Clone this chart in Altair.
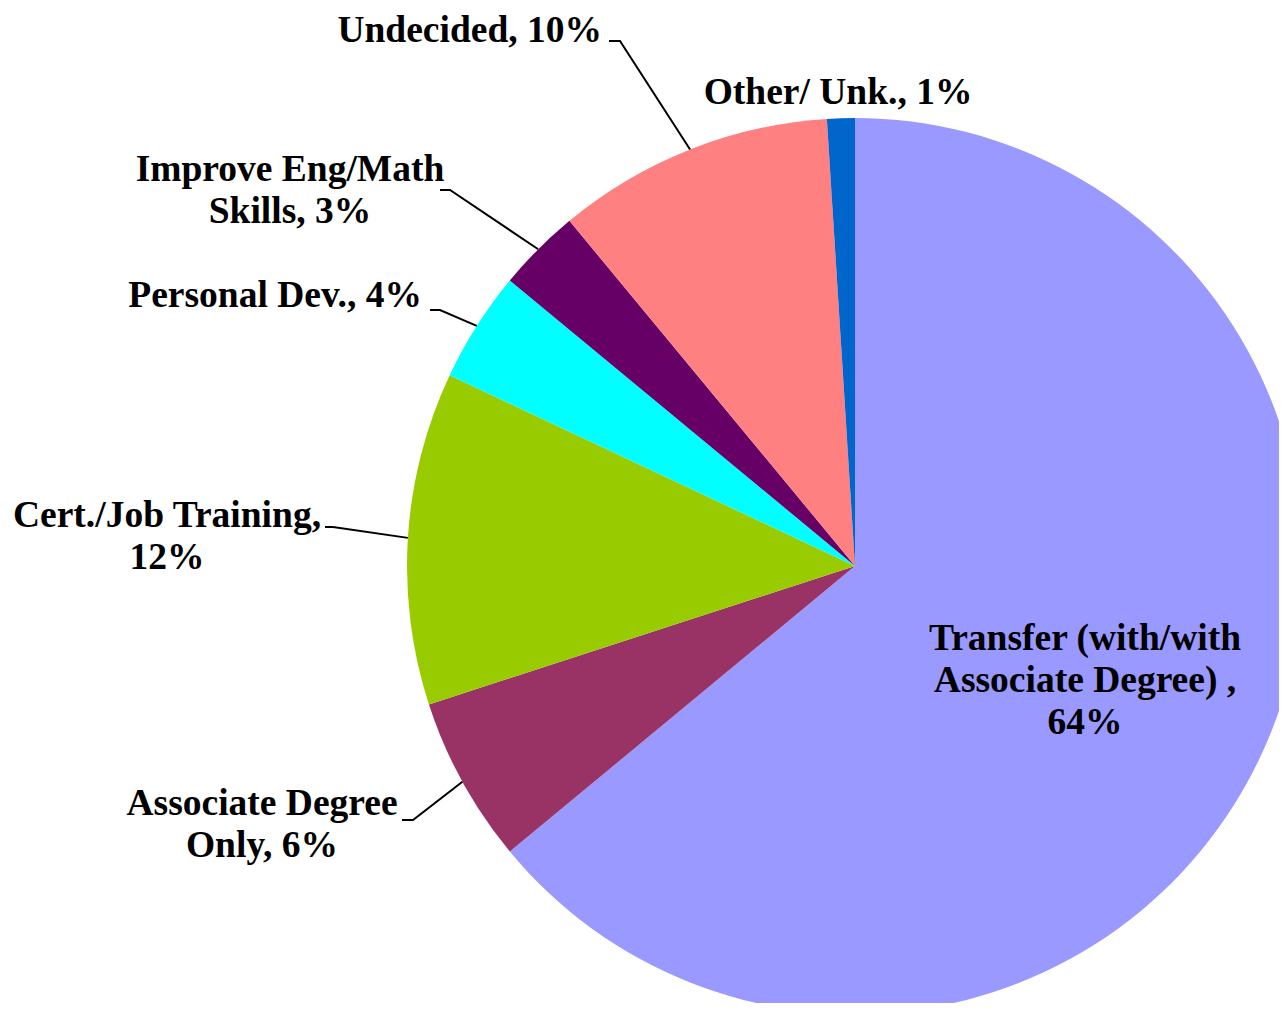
import math
import altair as alt
import pandas as pd

# ---- data ----
categories = [
    "Transfer (with/with Associate Degree)",
    "Associate Degree Only",
    "Cert./Job Training",
    "Personal Dev.",
    "Improve Eng/Math Skills",
    "Undecided",
    "Other/ Unk.",
]
values = [64, 6, 12, 4, 3, 10, 1]
colors = ["#9999FF", "#993366", "#99CC00", "#00FFFF", "#660066", "#FF8080", "#0066CC"]
label_texts = [
    "Transfer (with/with\nAssociate Degree) ,\n64%",
    "Associate Degree\nOnly, 6%",
    "Cert./Job Training,\n12%",
    "Personal Dev., 4%",
    "Improve Eng/Math\nSkills, 3%",
    "Undecided, 10%",
    "Other/ Unk., 1%",
]

# ---- layout (pixels relative to the pie centre, y pointing up) ----
W, H = 1271, 995
CX, CY = 847, 558
R = 448
label_x = [230, -593, -688, -433, -565, -253, -17]
label_y = [-84, -249, 39, 259, 385, 524, 462]
label_align = ["center", "center", "center", "right", "center", "right", "center"]
# (label end x, elbow x, y) for leader lines
leaders = [None, (-453, -442, -254), (-530, -522, 39), (-425, -415, 256),
           (-415, -405, 376), (-246, -235, 525), None]

xscale = alt.Scale(domain=[-CX, W - CX], nice=False, zero=False)
yscale = alt.Scale(domain=[-(H - CY), CY], nice=False, zero=False)

pie_df = pd.DataFrame({"category": categories, "value": values, "order": list(range(len(values)))})

total = sum(values)
line_rows = []
cum = 0
for i, v in enumerate(values):
    mid = (cum + v / 2) / total * 2 * math.pi
    cum += v
    if leaders[i] is None:
        continue
    xe, xb, yl = leaders[i]
    ex, ey = R * math.sin(mid), R * math.cos(mid)
    for k, (px, py) in enumerate([(xe, yl), (xb, yl), (ex, ey)]):
        line_rows.append({"seg": categories[i], "idx": k, "x": px, "y": py})
lines_df = pd.DataFrame(line_rows)

text_df = pd.DataFrame({"label": label_texts, "x": label_x, "y": label_y, "align": label_align})

pie = alt.Chart(pie_df).mark_arc(
    radius=R, x=alt.expr("scale('x', 0)"), y=alt.expr("scale('y', 0)")
).encode(
    theta=alt.Theta("value:Q", stack=True),
    color=alt.Color("category:N", scale=alt.Scale(domain=categories, range=colors), legend=None),
    order=alt.Order("order:Q", sort="ascending"),
)

leader = alt.Chart(lines_df).mark_line(color="black", strokeWidth=2).encode(
    x=alt.X("x:Q", scale=xscale, axis=None),
    y=alt.Y("y:Q", scale=yscale, axis=None),
    detail="seg:N",
    order="idx:Q",
)

font = dict(font="Liberation Serif", fontSize=37.5, fontWeight="bold", color="black",
            baseline="alphabetic", lineBreak="\n", lineHeight=42)

text_c = alt.Chart(text_df).transform_filter(alt.datum.align == "center").mark_text(
    align="center", **font
).encode(
    x=alt.X("x:Q", scale=xscale, axis=None),
    y=alt.Y("y:Q", scale=yscale, axis=None),
    text="label:N",
)
text_r = alt.Chart(text_df).transform_filter(alt.datum.align == "right").mark_text(
    align="right", **font
).encode(
    x=alt.X("x:Q", scale=xscale, axis=None),
    y=alt.Y("y:Q", scale=yscale, axis=None),
    text="label:N",
)

chart = alt.layer(pie, leader, text_c, text_r).properties(
    width=W, height=H, padding=0, autosize=alt.AutoSizeParams(type="none"),
    background="white",
).configure_view(stroke=None)

chart.save("out.html", embed_options={"renderer": "svg", "actions": False})
